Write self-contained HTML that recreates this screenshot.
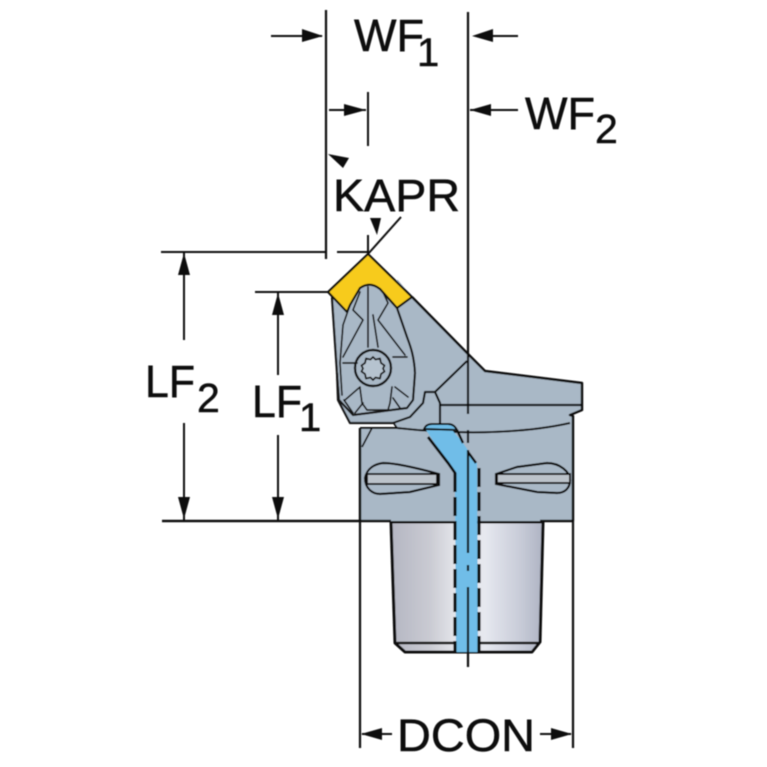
<!DOCTYPE html>
<html><head><meta charset="utf-8"><style>
html,body{margin:0;padding:0;background:#fff}
svg{display:block}
text{font-family:"Liberation Sans",sans-serif;fill:#111;stroke:#111;stroke-width:.5}
</style></head><body>
<svg width="767" height="767" viewBox="0 0 767 767" xmlns="http://www.w3.org/2000/svg">
<defs>
<linearGradient id="g" x1="0" x2="1" y1="0" y2="0">
<stop offset="0" stop-color="#b4b6c2"/><stop offset=".25" stop-color="#c9cad2"/><stop offset=".42" stop-color="#e4e5ea"/><stop offset=".62" stop-color="#e6e8ef"/><stop offset=".85" stop-color="#c8ccd8"/><stop offset="1" stop-color="#aeb3c3"/>
</linearGradient>
<filter id="b" x="-2%" y="-2%" width="104%" height="104%"><feGaussianBlur stdDeviation="0.45"/></filter>
</defs>
<g filter="url(#b)">
<!-- shank -->
<path d="M391 522H543L540 642L532 652H405L395 643Z" fill="url(#g)" stroke="#111" stroke-width="3" stroke-linejoin="round"/>
<path d="M395 643H540" stroke="#111" stroke-width="2.5"/>
<!-- head body -->
<path d="M360 521V428H397L393 422L350 423L338 400L332 298L345 280H398L412 297L468 354L485 371L582 383V410L570 415L573 416V521Z" fill="#a9b8c6"/>
<path d="M360 521V428M573 521V416L570 415L582 410V383L485 371L468 354L412 297" fill="none" stroke="#111" stroke-width="2.5" stroke-linejoin="round"/>
<path d="M467 361L435 392L440 403V425M440 405H582" fill="none" stroke="#111" stroke-width="2.2"/>
<path d="M360 428H397C470 436 530 432 570 423" fill="none" stroke="#111" stroke-width="2"/>
<path d="M362 447L372 428M393 422L397 428" fill="none" stroke="#111" stroke-width="1.8"/>
<!-- clamp details -->
<g fill="none" stroke="#151515" stroke-width="1.700" stroke-linejoin="round" stroke-linecap="round">
<path d="M332 298L337 373L338 400L350 423H393L410 417L423 403L425 392L435 392" stroke-width="2.2"/>
<path d="M337 373L339 400L353 415L377 412L407 408L413 400L415 373C414 355 410 345 407 337L397 308" stroke-width="2.2"/>
<path d="M350 305L343 325L340 363L342 395"/>
<path d="M360 292L353 310L363 320L343 357"/>
<path d="M368 287V347M373 315L378 347"/>
<path d="M382 290L388 303L378 320L405 355"/>
<path d="M343 363H357M393 357H407"/>
<path d="M360 388L362 403L367 410H388L390 403L392 387"/>
<path d="M363 403L355 413M345 400L360 387M344 400L353 413M395 387L408 397M393 398L400 408"/>
<circle cx="373" cy="368" r="18" stroke-width="2.4"/>
<path d="M373 357l2.500 2.500 4.500-1 1 4.500 3.500 2.500-1.500 3 1.500 3-3.500 2.500-1 4.500-4.500-1-2.500 2.500-2.500-2.500-4.500 1-1-4.500-3.500-2.500 1.500-3-1.500-3 3.500-2.500 1-4.500 4.500 1z" stroke-width="1.8" fill="#b6c3cf"/>
</g>
<!-- insert -->
<path d="M368 254L412 297L397 308L380 289Q370 281 360 288L350 305L347 312L328 292Z" fill="#f7cb1a" stroke="#111" stroke-width="2.2" stroke-linejoin="round"/>
<!-- coolant -->
<path d="M426 430H452L463 443L477 463L478 652H456L455 473L448 463Z" fill="#6fbde8"/>
<path d="M424 429Q426 424 432 424H448Q454 424 457 430Z" fill="#6fbde8" stroke="#111" stroke-width="2"/>
<path d="M428 437L448 463L455 473V490" fill="none" stroke="#111" stroke-width="2.8"/>
<path d="M455 473V652" fill="none" stroke="#111" stroke-width="3.2" stroke-dasharray="19 5"/>
<path d="M479 468V652" fill="none" stroke="#111" stroke-width="3.2" stroke-dasharray="19 5"/>
<path d="M457 430L463 443M468 452L476 463" fill="none" stroke="#111" stroke-width="2.5"/>
<!-- slots -->
<g fill="#a9b8c6" stroke="#111" stroke-width="2.2">
<path d="M365 478C367 468 375 464 383 463C395 463 417 468 439 474V485L410 492L380 494C372 494 365 488 365 478Z"/>
<path d="M496 474L517 467L547 463C560 463 570 472 570 480C570 488 565 493 557 493L537 492L496 484Z"/>
</g>
<rect x="367" y="474" width="70" height="10" fill="#bcc3ca" stroke="#111" stroke-width="2"/>
<rect x="497" y="474" width="73" height="9" fill="#bcc3ca" stroke="#111" stroke-width="2"/>
<!-- centre line -->
<path d="M468 12V414M468 430V443M468 450V553M468 565V571M468 587V667" fill="none" stroke="#111" stroke-width="2.2"/>
<!-- dimension lines -->
<g fill="none" stroke="#111" stroke-width="2">
<path d="M326 10V259" stroke-width="2.2"/>
<path d="M271 36H322M478 36H518M470 110H518"/>
<path d="M329 110H366M368 92V146"/>
<path d="M161 252H327M337 252H368M368 235V254M368 254L401 217" stroke-width="2"/>
<path d="M255 292H328"/>
<path d="M184 252V340M184 423V520M278 292V375M278 435V520"/>
<path d="M162 521H391M540 521H573" stroke-width="2.6"/>
<path d="M360 521V748M573 521V748" stroke-width="2.2"/>
<path d="M362 734H392M540 734H571"/>
</g>
<g fill="#111">
<path d="M323 36L302 29V42Z"/><path d="M472 36L493 29V42Z"/><path d="M470 110L491 104V116Z"/>
<path d="M366 110L344 104V116Z"/>
<path d="M328 154L349 158L343 168Z"/>
<path d="M377 235L381 218H370Z"/>
<path d="M184 253L178 275H190Z"/><path d="M184 519L178 497H190Z"/>
<path d="M278 293L272 315H284Z"/><path d="M278 519L272 497H284Z"/>
<path d="M361 734L382 728V740Z"/><path d="M572 734L551 728V740Z"/>
</g>
<!-- labels -->
<text x="354" y="51" font-size="45" textLength="70" lengthAdjust="spacingAndGlyphs">WF</text>
<text x="417" y="66" font-size="40">1</text>
<text x="525" y="129" font-size="45" textLength="70" lengthAdjust="spacingAndGlyphs">WF</text>
<text x="595" y="143" font-size="41">2</text>
<text x="333" y="211" font-size="45" textLength="127" lengthAdjust="spacingAndGlyphs">KAPR</text>
<text x="145" y="397" font-size="45" textLength="50" lengthAdjust="spacingAndGlyphs">LF</text>
<text x="197" y="412" font-size="41">2</text>
<text x="252" y="417" font-size="45" textLength="50" lengthAdjust="spacingAndGlyphs">LF</text>
<text x="299" y="431" font-size="40">1</text>
<text x="397" y="751" font-size="45" textLength="138" lengthAdjust="spacingAndGlyphs">DCON</text>
</g>
</svg>
</body></html>
